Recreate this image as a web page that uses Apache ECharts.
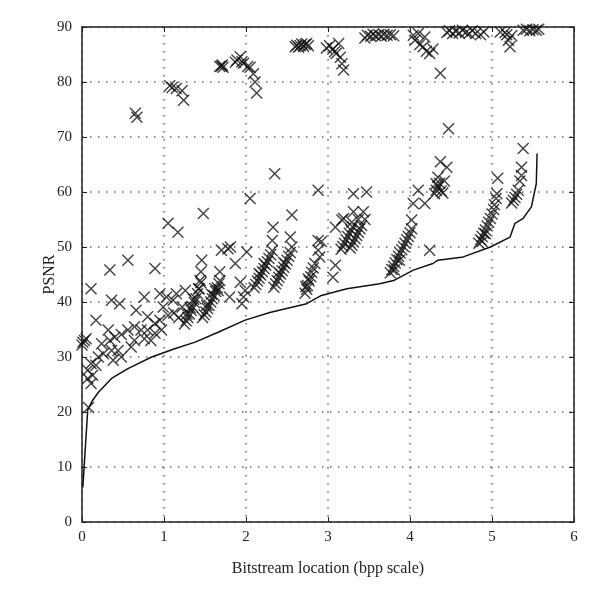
<!DOCTYPE html>
<html>
<head>
<meta charset="utf-8">
<script src="https://cdn.jsdelivr.net/npm/echarts@6/dist/echarts.min.js"></script>
<style>
html, body { margin: 0; padding: 0; background: #fff; }
#chart { width: 600px; height: 600px; }
</style>
</head>
<body>
<div id="chart"></div>
<script>
// bound curve (solid line)
var boundLine = [
  [0.01, 6.3], [0.07, 20.4], [0.12, 21.9], [0.20, 23.6], [0.36, 26.1], [0.56, 27.9],
  [0.85, 30.0], [1.13, 31.5], [1.38, 32.7], [1.66, 34.5], [1.99, 36.7], [2.29, 38.1],
  [2.74, 39.7], [2.92, 41.2], [3.23, 42.4], [3.63, 43.3], [3.80, 43.9], [4.04, 45.8],
  [4.28, 47.0], [4.34, 47.6], [4.65, 48.2], [4.98, 50.0], [5.22, 51.8], [5.28, 54.3],
  [5.38, 55.2], [5.48, 57.3], [5.54, 61.5], [5.55, 67.0]
];

// scattered marks, low band (x < 2)
var lowPts = [
  [0.00, 32.2], [0.01, 32.7], [0.03, 33.0], [0.05, 33.3], [0.08, 20.8],
  [0.07, 27.6], [0.07, 26.1], [0.11, 25.2], [0.13, 26.7], [0.11, 28.8], [0.17, 28.5],
  [0.20, 30.0], [0.26, 30.6], [0.24, 32.4], [0.34, 33.0], [0.36, 31.2], [0.44, 31.2],
  [0.48, 30.0], [0.38, 29.4], [0.32, 34.9], [0.40, 33.6], [0.48, 34.1], [0.56, 34.9],
  [0.64, 35.5], [0.72, 34.9], [0.80, 34.9], [0.89, 34.3], [0.97, 34.9], [0.64, 33.0],
  [0.76, 33.3], [0.84, 33.0], [0.60, 31.8], [0.17, 36.7], [0.66, 38.5], [0.80, 37.3],
  [0.89, 36.1], [0.95, 36.7], [0.36, 40.3], [0.46, 39.7], [0.76, 40.9], [0.95, 41.5],
  [0.11, 42.4], [0.34, 45.8], [0.56, 47.6], [0.89, 46.1], [0.99, 39.1], [1.03, 40.9],
  [1.11, 40.3], [1.15, 41.5], [1.22, 39.1], [1.26, 42.1], [1.05, 37.6], [1.12, 38.0],
  [1.18, 37.2], [1.05, 54.3], [1.17, 52.7], [1.48, 56.1], [1.42, 42.4], [1.44, 43.9],
  [1.45, 45.5], [1.46, 47.6], [1.66, 42.1], [1.68, 43.9], [1.68, 45.5], [1.70, 49.4],
  [1.78, 49.7], [1.81, 50.0], [1.87, 47.0], [1.80, 40.9], [1.93, 43.6], [1.99, 42.1],
  [1.95, 39.7], [1.97, 40.9]
];

// dense streaks
var fanA = [[1.25, 36.0], [1.27, 36.6], [1.29, 37.2], [1.31, 37.8], [1.33, 38.5], [1.35, 39.1], [1.37, 39.9], [1.39, 40.6], [1.41, 41.5], [1.43, 42.4], [1.45, 43.5], [1.28, 37.8], [1.32, 39.0], [1.36, 40.5]];
var fanB = [[1.47, 37.2], [1.49, 37.7], [1.51, 38.2], [1.53, 38.8], [1.55, 39.4], [1.57, 40.0], [1.59, 40.6], [1.61, 41.2], [1.63, 41.9], [1.65, 42.6], [1.67, 43.3], [1.52, 39.4], [1.58, 41.4], [1.62, 42.4]];
var fanC = [[2.10, 42.6], [2.12, 43.2], [2.14, 43.8], [2.16, 44.3], [2.18, 44.9], [2.20, 45.5], [2.22, 46.1], [2.24, 46.7], [2.26, 47.3], [2.28, 47.9], [2.30, 48.6], [2.32, 49.3], [2.16, 45.2], [2.22, 47.0]];
var fanD = [[2.34, 42.7], [2.36, 43.3], [2.38, 43.9], [2.40, 44.5], [2.42, 45.1], [2.44, 45.7], [2.46, 46.3], [2.48, 46.9], [2.50, 47.6], [2.52, 48.3], [2.54, 49.0], [2.40, 45.4], [2.46, 47.2]];
var fanE = [[2.72, 41.6], [2.74, 42.3], [2.75, 43.0], [2.77, 43.8], [2.79, 44.6], [2.80, 45.4], [2.82, 46.2], [2.84, 47.0], [2.76, 44.2], [2.73, 42.8]];
var fanF = [[3.16, 49.6], [3.18, 50.1], [3.20, 50.7], [3.22, 51.3], [3.24, 51.9], [3.26, 52.5], [3.28, 53.1], [3.30, 53.7], [3.27, 49.8], [3.29, 50.3], [3.31, 50.9], [3.33, 51.5], [3.35, 52.1], [3.37, 52.7], [3.39, 53.3], [3.41, 53.9]];
var fanG = [[3.76, 45.3], [3.78, 45.9], [3.80, 46.5], [3.82, 47.1], [3.84, 47.7], [3.86, 48.3], [3.88, 48.9], [3.90, 49.5], [3.92, 50.1], [3.94, 50.7], [3.96, 51.3], [3.98, 51.9], [4.00, 52.6], [3.81, 45.8], [3.87, 47.6]];
var fanH = [[4.30, 59.7], [4.32, 60.3], [4.34, 61.0], [4.36, 61.6], [4.38, 60.2], [4.40, 59.8], [4.32, 61.5], [4.34, 62.7], [4.42, 62.0], [4.37, 65.5], [4.45, 64.5]];
var fanI = [[4.84, 50.7], [4.86, 51.3], [4.88, 51.9], [4.90, 52.5], [4.92, 53.1], [4.94, 53.8], [4.96, 54.5], [4.98, 55.2], [5.00, 56.0], [5.02, 56.8], [4.88, 51.0], [4.92, 52.4]];
var fanJ = [[5.24, 58.0], [5.26, 58.5], [5.28, 59.0], [5.30, 59.6], [5.32, 60.3], [5.34, 62.0], [5.36, 63.0], [5.36, 64.5], [5.38, 67.9]];

// sparse marks in the middle band
var midPts = [
  [2.01, 49.1], [2.05, 58.8], [2.32, 51.2], [2.33, 53.6], [2.35, 63.3],
  [2.56, 50.0], [2.54, 51.8], [2.56, 55.8], [2.88, 49.4], [2.90, 48.2],
  [2.88, 51.2], [2.92, 51.0], [2.88, 60.3], [3.06, 44.5], [3.09, 46.7],
  [3.09, 53.6], [3.17, 54.9], [3.19, 55.2], [3.29, 54.5], [3.31, 56.4],
  [3.37, 55.0], [3.43, 56.4], [3.45, 55.0], [3.31, 59.7], [3.47, 60.0],
  [4.02, 53.3], [4.02, 54.9], [4.04, 57.9], [4.10, 60.3], [4.18, 57.9],
  [4.24, 49.4], [4.47, 71.5], [5.03, 57.7], [5.05, 58.8], [5.06, 59.7], [5.07, 62.5]
];

// top band (y > 70)
var topPts = [
  [0.65, 74.3], [0.67, 73.6],
  [1.07, 79.3], [1.10, 79.0], [1.15, 78.8], [1.22, 78.4], [1.24, 76.7],
  [1.68, 82.8], [1.70, 82.9], [1.72, 82.7], [1.71, 83.1],
  [1.87, 83.6], [1.89, 84.0], [1.93, 84.6], [1.95, 83.7], [1.97, 83.4], [2.02, 82.8],
  [2.05, 82.7], [2.09, 81.5], [2.11, 80.0], [2.13, 78.0],
  [2.60, 86.4], [2.62, 86.7], [2.64, 86.3], [2.66, 86.6], [2.68, 86.9], [2.70, 86.5],
  [2.72, 86.8], [2.74, 87.0], [2.76, 86.6],
  [2.98, 86.2], [3.02, 86.6], [3.06, 86.0], [3.08, 85.5], [3.10, 85.2], [3.13, 87.0],
  [3.15, 84.5], [3.17, 83.3], [3.19, 82.2],
  [3.45, 88.0], [3.48, 88.5], [3.52, 88.3], [3.55, 88.7], [3.58, 88.4], [3.62, 88.6],
  [3.65, 88.3], [3.68, 88.7], [3.72, 88.5], [3.76, 88.6], [3.80, 88.4],
  [4.04, 88.5], [4.06, 87.6], [4.10, 88.8], [4.12, 86.8], [4.16, 86.4], [4.18, 88.2],
  [4.20, 85.6], [4.24, 85.2], [4.28, 86.0], [4.37, 81.6],
  [4.45, 89.0], [4.48, 89.3], [4.52, 88.8], [4.56, 89.2], [4.60, 88.9], [4.64, 89.4],
  [4.68, 89.0], [4.72, 88.8], [4.76, 89.3], [4.80, 88.8], [4.86, 88.6], [4.90, 89.1],
  [5.10, 89.1], [5.16, 89.0], [5.18, 88.6], [5.20, 87.6], [5.22, 86.4], [5.24, 88.4],
  [5.38, 89.4], [5.42, 89.6], [5.46, 89.3], [5.50, 89.5], [5.54, 89.4], [5.57, 89.6]
];

var xTicks = [0, 1, 2, 3, 4, 5, 6];
var yTicks = [0, 10, 20, 30, 40, 50, 60, 70, 80, 90];

var crossMark = 'path://M0,0L10,10M10,0L0,10';
var font = '"Liberation Serif", "DejaVu Serif", serif';

function marks(data) {
  return {
    type: 'scatter',
    data: data,
    symbol: crossMark,
    symbolSize: 11,
    itemStyle: { color: 'transparent', borderColor: '#111', borderWidth: 1.4 },
    clip: false,
    silent: true,
    z: 3
  };
}

var chart = echarts.init(document.getElementById('chart'));
var option = {
  animation: false,
  backgroundColor: '#fff',
  grid: { left: 82, right: 26, top: 27, bottom: 78 },
  xAxis: [{
    type: 'value', min: xTicks[0], max: xTicks[xTicks.length - 1], interval: 1,
    name: 'Bitstream location (bpp scale)', nameLocation: 'middle', nameGap: 39,
    nameTextStyle: { fontFamily: font, fontSize: 16, color: '#222' },
    axisLine: { onZero: false, lineStyle: { color: '#222', width: 1.5 } },
    axisTick: { inside: true, length: 5, lineStyle: { color: '#222' } },
    axisLabel: { fontFamily: font, fontSize: 15, color: '#222', margin: 8 },
    splitLine: { show: true, lineStyle: { color: '#666', type: [1.5, 6.5], width: 1.5 } }
  }, {
    type: 'value', position: 'top', min: 0, max: 6, interval: 1,
    axisLine: { onZero: false, lineStyle: { color: '#222', width: 1.5 } },
    axisTick: { inside: true, length: 5, lineStyle: { color: '#222' } },
    axisLabel: { show: false }, splitLine: { show: false }
  }],
  yAxis: [{
    type: 'value', min: yTicks[0], max: yTicks[yTicks.length - 1], interval: 10,
    name: 'PSNR', nameLocation: 'middle', nameGap: 24, nameRotate: 90, nameMoveOverlap: false,
    nameTextStyle: { fontFamily: font, fontSize: 16, color: '#222' },
    axisLine: { show: true, onZero: false, lineStyle: { color: '#222', width: 1.5 } },
    axisTick: { show: true, inside: true, length: 5, lineStyle: { color: '#222' } },
    axisLabel: { fontFamily: font, fontSize: 15, color: '#222', margin: 10 },
    splitLine: { show: true, lineStyle: { color: '#666', type: [1.5, 6.5], width: 1.5 } }
  }, {
    type: 'value', position: 'right', min: 0, max: 90, interval: 10,
    axisLine: { show: true, onZero: false, lineStyle: { color: '#222', width: 1.5 } },
    axisTick: { show: true, inside: true, length: 5, lineStyle: { color: '#222' } },
    axisLabel: { show: false }, splitLine: { show: false }
  }],
  series: [
    {
      type: 'line', data: boundLine, showSymbol: false, symbol: 'none',
      lineStyle: { color: '#111', width: 1.5 }, z: 4, silent: true
    },
    marks(lowPts), marks(fanA), marks(fanB), marks(fanC), marks(fanD),
    marks(fanE), marks(fanF), marks(fanG), marks(fanH), marks(fanI),
    marks(fanJ), marks(midPts), marks(topPts)
  ]
};
chart.setOption(option);
</script>
</body>
</html>
